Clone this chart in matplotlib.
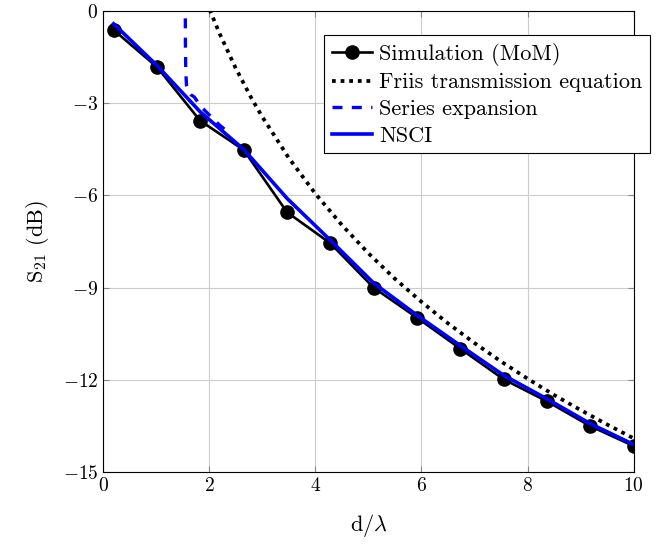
import numpy as np
import matplotlib
matplotlib.use("Agg")
import matplotlib.pyplot as plt

plt.rcParams['font.family'] = 'serif'
plt.rcParams['font.serif'] = ['cmr10']
plt.rcParams['mathtext.fontset'] = 'cm'
plt.rcParams['axes.formatter.use_mathtext'] = True

# Simulation (MoM)
d_sim = [0.2, 1.02, 1.83, 2.65, 3.47, 4.28, 5.1, 5.92, 6.73, 7.55, 8.37, 9.18, 10.0]
s21_sim = [-0.62, -1.83, -3.57, -4.52, -6.55, -7.55, -9.0, -9.98, -10.98, -11.98, -12.7, -13.5, -14.15]

# NSCI
d_nsci = [0.2, 1.02, 1.83, 2.65, 3.47, 4.28, 5.1, 5.92, 6.73, 7.55, 8.37, 9.18, 10.0]
s21_nsci = [-0.42, -1.78, -3.28, -4.5, -6.1, -7.45, -8.85, -9.9, -10.88, -11.85, -12.62, -13.42, -14.1]

# Friis transmission equation
d_friis = [1.95, 2.0, 2.2, 2.5, 2.8, 3.0, 3.5, 4.0, 4.5, 5.0, 5.5, 6.0, 6.5, 7.0, 7.5, 8.0, 8.5, 9.0, 9.5, 10.0]
s21_friis = [0.3, 0.08, -0.75, -1.86, -2.85, -3.44, -4.78, -5.94, -6.96, -7.88, -8.71, -9.46,
             -10.16, -10.8, -11.4, -11.96, -12.49, -12.98, -13.45, -13.9]

# Series expansion
d_series = [1.55, 1.553, 1.56, 1.575, 1.6, 1.65, 1.72, 1.85, 2.0, 2.2, 2.4]
s21_series = [0.5, -1.0, -2.0, -2.45, -2.62, -2.72, -2.8, -3.12, -3.38, -3.72, -4.0]

fig = plt.figure(figsize=(6.56, 5.44), dpi=100)
ax = fig.add_axes([0.157, 0.132, 0.809, 0.848])

ax.plot(d_sim, s21_sim, color='black', lw=1.9, marker='o', markersize=9.5,
        label='Simulation (MoM)', zorder=3)
ax.plot(d_friis, s21_friis, color='black', lw=2.7, linestyle=(0, (1, 1.3)),
        label='Friis transmission equation', zorder=2)
ax.plot(d_series, s21_series, color='blue', lw=2.4, linestyle=(0, (3, 2.8)),
        label='Series expansion', zorder=4)
ax.plot(d_nsci, s21_nsci, color='blue', lw=2.6, label='NSCI', zorder=3.5)

ax.set_xlim(0, 10)
ax.set_ylim(-15, 0)
ax.set_xticks([0, 2, 4, 6, 8, 10])
ax.set_yticks([-15, -12, -9, -6, -3, 0])
ax.grid(True, color='#cccccc', lw=0.8)
ax.tick_params(direction='in', top=True, right=True, length=4, color='#888888',
               labelsize=14)
for s in ax.spines.values():
    s.set_linewidth(0.8)

ax.set_xlabel(r'd/$\lambda$', fontsize=16, labelpad=12)
ax.set_ylabel(r'S$_{21}$ (dB)', fontsize=16, labelpad=8)

leg = ax.legend(loc='upper left', bbox_to_anchor=(0.416, 0.948), fontsize=16,
                frameon=True, fancybox=False, edgecolor='black', framealpha=1,
                handlelength=1.8, handletextpad=0.35, borderpad=0.35, labelspacing=0.32,
                borderaxespad=0)
leg.get_frame().set_linewidth(0.8)
leg.set_zorder(10)

fig.savefig('out.png', dpi=100)
